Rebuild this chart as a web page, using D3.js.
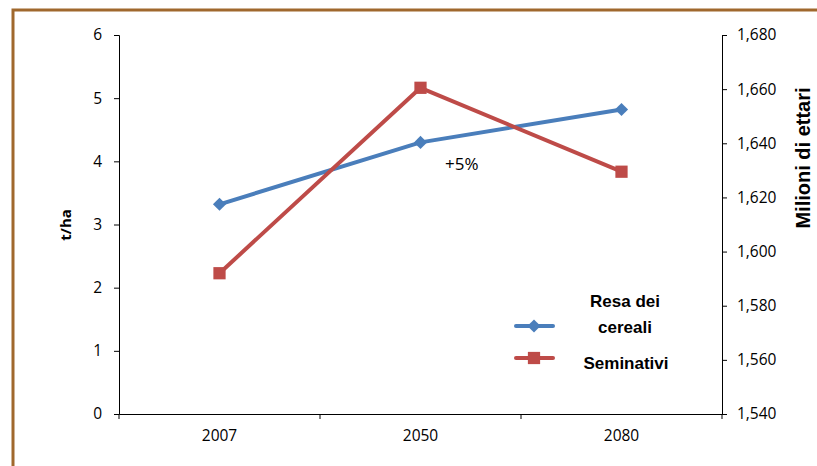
<!DOCTYPE html>
<html><head><meta charset="utf-8">
<script src="https://cdn.jsdelivr.net/npm/d3@7"></script>
<style>body{margin:0;background:#fff}svg{display:block}</style>
</head><body><svg id="c" width="817" height="466"></svg>
<script>
const categories = ["2007", "2050", "2080"];
const resaCereali = [3.32, 4.30, 4.82];
const seminativi = [1592, 1660.5, 1629.5];
const leftTicks = [0, 1, 2, 3, 4, 5, 6];
const rightTicks = [1540, 1560, 1580, 1600, 1620, 1640, 1660, 1680];
const seriesNames = ["Resa dei cereali", "Seminativi"];

const svg = d3.select("#c");
const L = 119, R = 722, T = 35, B = 414;
const tickFont = "'Open Sans', 'Noto Sans', sans-serif";

svg.append("rect").attr("x", 13).attr("y", 10).attr("width", 830).attr("height", 480)
  .attr("fill", "none").attr("stroke", "#A0682D").attr("stroke-width", 3);

const x = d3.scaleBand().domain(categories).range([L, R]);
const yL = d3.scaleLinear().domain([0, 6]).range([B, T]);
const yR = d3.scaleLinear().domain([1540, 1680]).range([B, T]);

const fmt = d3.format(",");

const gL = svg.append("g").attr("transform", `translate(${L},0)`)
  .call(d3.axisLeft(yL).tickValues(leftTicks).tickSize(5).tickPadding(12).tickFormat(d3.format("d")));
const gR = svg.append("g").attr("transform", `translate(${R},0)`)
  .call(d3.axisRight(yR).tickValues(rightTicks).tickSize(5).tickPadding(10).tickFormat(fmt));
const xTickPos = d3.range(categories.length + 1).map(i => L + i * x.step());
const gX = svg.append("g").attr("transform", `translate(0,${B})`)
  .call(d3.axisBottom(x).tickSize(0).tickPadding(16));
gX.selectAll(".xt").data(xTickPos).enter().append("line").attr("class", "xt")
  .attr("x1", d => d).attr("x2", d => d).attr("y1", 0).attr("y2", 5).attr("stroke", "#000");

[gL, gR, gX].forEach(g => {
  g.select(".domain").attr("stroke", "#000").attr("stroke-width", 1);
  g.selectAll(".tick line").attr("stroke", "#000");
  g.selectAll("text").attr("fill", "#000").style("font-family", tickFont).style("font-size", "15.5px");
});

const blue = "#4A7EBB", red = "#BE4B48";
const cx = d => x(d) + x.bandwidth() / 2;

const lineL = d3.line().x((d, i) => cx(categories[i])).y(d => yL(d));
const lineR = d3.line().x((d, i) => cx(categories[i])).y(d => yR(d));

svg.append("path").datum(resaCereali).attr("d", lineL).attr("fill", "none")
  .attr("stroke", blue).attr("stroke-width", 4).attr("stroke-linejoin", "round");
svg.append("path").datum(seminativi).attr("d", lineR).attr("fill", "none")
  .attr("stroke", red).attr("stroke-width", 4).attr("stroke-linejoin", "round");

const diamond = d3.symbol().type(d3.symbolDiamond2).size(110);
const square = d3.symbol().type(d3.symbolSquare).size(150);

svg.selectAll(".db").data(resaCereali).enter().append("path")
  .attr("d", diamond).attr("fill", blue)
  .attr("transform", (d, i) => `translate(${cx(categories[i])},${yL(d)})`);
svg.selectAll(".sq").data(seminativi).enter().append("path")
  .attr("d", square).attr("fill", red)
  .attr("transform", (d, i) => `translate(${cx(categories[i])},${yR(d)})`);

svg.append("text").attr("x", 445).attr("y", 170).text("+5%")
  .style("font-family", tickFont).style("font-size", "17px").attr("fill", "#000");

// axis titles
svg.append("text").attr("transform", `translate(71,225) rotate(-90)`).attr("text-anchor", "middle")
  .text("t/ha").style("font-family", tickFont).style("font-weight", "bold").style("font-size", "15px");
svg.append("text").attr("transform", `translate(810,158) rotate(-90)`).attr("text-anchor", "middle")
  .text("Milioni di ettari").style("font-family", "'Liberation Sans', Arial, sans-serif")
  .style("font-weight", "bold").style("font-size", "20px");

// legend
const lg = svg.append("g").style("font-family", "'Liberation Sans', Arial, sans-serif")
  .style("font-weight", "bold").style("font-size", "17px");
lg.append("line").attr("x1", 516).attr("x2", 553).attr("y1", 326).attr("y2", 326)
  .attr("stroke", blue).attr("stroke-width", 4).attr("stroke-linecap", "round");
lg.append("path").attr("d", diamond).attr("fill", blue).attr("transform", "translate(534,326)");
lg.append("line").attr("x1", 516).attr("x2", 553).attr("y1", 358).attr("y2", 358)
  .attr("stroke", red).attr("stroke-width", 4).attr("stroke-linecap", "round");
lg.append("path").attr("d", square).attr("fill", red).attr("transform", "translate(534,358)");
const t1 = lg.append("text").attr("x", 625).attr("text-anchor", "middle");
t1.append("tspan").attr("x", 625).attr("y", 307).text("Resa dei");
t1.append("tspan").attr("x", 625).attr("y", 333).text("cereali");
lg.append("text").attr("x", 626).attr("y", 369).attr("text-anchor", "middle").text(seriesNames[1]);
</script></body></html>
